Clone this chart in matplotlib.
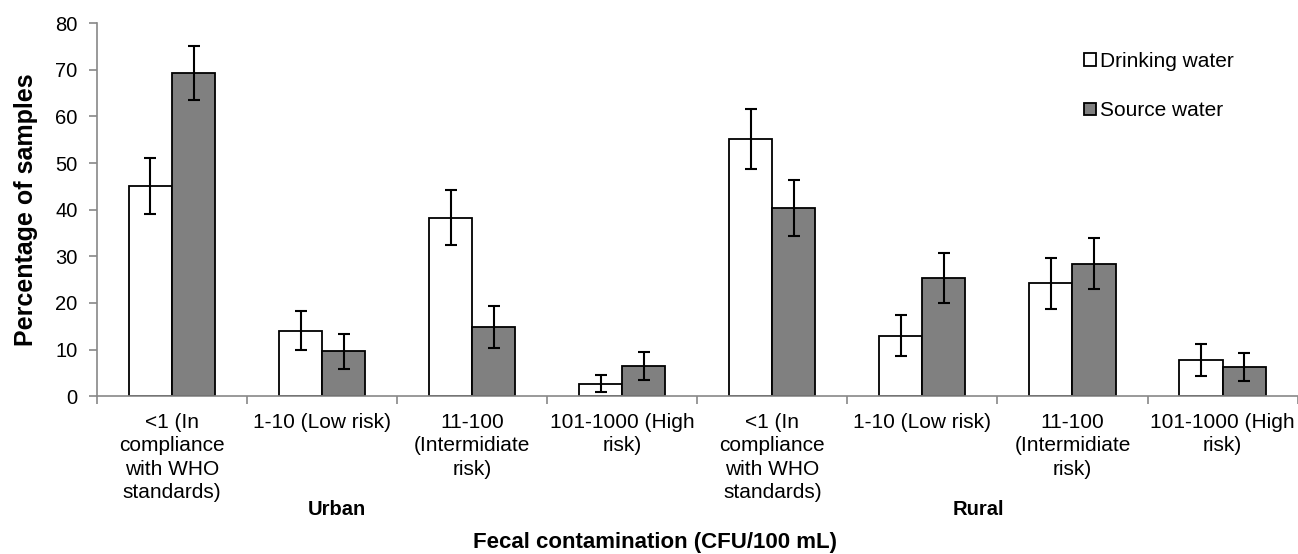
import matplotlib
matplotlib.use("Agg")
import matplotlib.pyplot as plt
import numpy as np

plt.rcParams['font.family'] = ['Liberation Sans', 'DejaVu Sans']

# data
categories = ["<1 (In\ncompliance\nwith WHO\nstandards)", "1-10 (Low risk)",
              "11-100\n(Intermidiate\nrisk)", "101-1000 (High\nrisk)",
              "<1 (In\ncompliance\nwith WHO\nstandards)", "1-10 (Low risk)",
              "11-100\n(Intermidiate\nrisk)", "101-1000 (High\nrisk)"]
drinking = [45.0, 14.0, 38.3, 2.7, 55.2, 13.0, 24.2, 7.8]
drinking_err = [6.0, 4.2, 5.9, 1.9, 6.4, 4.3, 5.5, 3.4]
source = [69.3, 9.6, 14.8, 6.5, 40.3, 25.3, 28.4, 6.2]
source_err = [5.8, 3.7, 4.5, 3.0, 6.0, 5.3, 5.5, 3.0]
groups = ["Urban", "Rural"]
group_x = [1.1, 5.37]

fig = plt.figure(figsize=(12.98, 5.54), dpi=100)
ax = fig.add_axes([0.0747, 0.285, 0.925, 0.673])

x = np.arange(len(categories))
w = 0.287
ekw = dict(elinewidth=1.5, capthick=1.5, ecolor='black')
ax.bar(x - w/2, drinking, w, yerr=drinking_err, capsize=4, color='white',
       edgecolor='black', linewidth=1.3, error_kw=ekw, label='Drinking water')
ax.bar(x + w/2, source, w, yerr=source_err, capsize=4, color='#808080',
       edgecolor='black', linewidth=1.3, error_kw=ekw, label='Source water')

ax.set_xlim(-0.5, len(categories) - 0.5)
ax.set_ylim(0, 80)
ax.set_yticks(np.arange(0, 81, 10))
ax.set_xticks(x)
ax.set_xticklabels(categories, fontsize=15, linespacing=1.3, va='top')
ax.set_xticks(np.arange(-0.5, len(categories), 1), minor=True)
ax.tick_params(axis='x', which='major', length=0, pad=12)
ax.tick_params(axis='x', which='minor', length=6, color='#888888', width=1.2)
ax.tick_params(axis='y', length=6, color='#888888', width=1.2, labelsize=14.5, pad=8)
for s in ['top', 'right']:
    ax.spines[s].set_visible(False)
for s in ['left', 'bottom']:
    ax.spines[s].set_color('#888888')
    ax.spines[s].set_linewidth(1.2)

ax.set_ylabel("Percentage of samples", fontsize=18, fontweight='bold', labelpad=12)
for gx, g in zip(group_x, groups):
    ax.text(gx, -0.303, g, transform=ax.get_xaxis_transform(), ha='center',
            va='center', fontsize=14.5, fontweight='bold')
fig.text(0.505, 0.02, "Fecal contamination (CFU/100 mL)", ha='center',
         va='center', fontsize=16, fontweight='bold')

ax.legend(loc='upper left', bbox_to_anchor=(0.821, 0.94), bbox_transform=fig.transFigure,
          frameon=False, fontsize=15, handlelength=0.55, handleheight=0.55,
          handletextpad=0.2, labelspacing=1.45)

fig.savefig("out.png", dpi=100)
